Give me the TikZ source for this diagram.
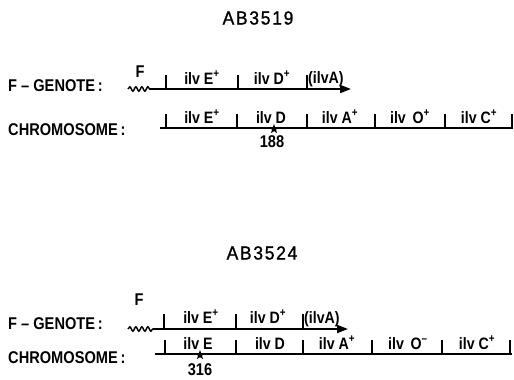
\documentclass[tikz,border=0pt]{standalone}
\usepackage{fontspec}
\setmainfont[FakeStretch=0.86]{Liberation Sans Bold}
\newfontfamily\titlefont[LetterSpace=9,FakeStretch=0.92,FakeBold=1.2]{Liberation Sans}
\usetikzlibrary{arrows.meta,decorations.pathmorphing,shapes.geometric}
\tikzset{
  rowlabel/.style={anchor=west,inner sep=0pt,font=\fontsize{17}{17}\selectfont},
  title/.style={inner sep=0pt,font=\titlefont\fontsize{19}{19}\selectfont},
  gene/.style={inner sep=0pt,anchor=base,font=\fontsize{16.5}{16.5}\selectfont},
  site/.style={inner sep=0pt,font=\fontsize{17}{17}\selectfont},
  dna/.style={line width=1.7pt},
  episome/.style={line width=1.9pt,-{Triangle[length=11pt,width=8pt]}},
  tick/.style={line width=1.4pt},
  wave/.style={line width=1.5pt,decorate,decoration={snake,segment length=6pt,amplitude=2.2pt}},
  mut/.style={star,star points=5,star point ratio=2.4,fill=black,inner sep=0pt,minimum size=10pt}
}
\newcommand{\plus}{\textsuperscript{+}}
\newcommand{\minus}{\textsuperscript{--}}
\begin{document}
\begin{tikzpicture}[x=1pt,y=-1pt]
\useasboundingbox (0,0) rectangle (514,380);

% ---------------- strain AB3519 ----------------
\node[title] (t1) at (258,18) {AB3519};

\node[rowlabel] (g1) at (8,86) {F -- GENOTE\,:};
\node[site] (f1) at (140,72) {F};
\coordinate (w1a) at (128,89);
\coordinate (w1b) at (150,89);
\coordinate (a1) at (351,89);
\draw[wave] (w1a) -- (w1b);
\draw[episome] (w1b) -- (a1);
\foreach \x/\n in {166/1,238/2,307/3}{
  \coordinate (gt1\n) at (\x,89);
  \draw[tick] (gt1\n) -- ++(0,-14);
}
\node[gene] (ge1) at (202,84) {ilv E\plus};
\node[gene] (gd1) at (272,84) {ilv D\plus};
\node[gene,anchor=base west] (ga1) at (308,83) {(ilvA)};

\node[rowlabel] (c1) at (8,130) {CHROMOSOME\,:};
\coordinate (cs1) at (160,128);
\coordinate (ce1) at (513,128);
\draw[dna] (cs1) -- (ce1);
\foreach \x/\n in {166/1,237/2,307/3,375/4,445/5,512/6}{
  \coordinate (ct1\n) at (\x,128);
  \draw[tick] (ct1\n) -- ++(0,-14);
}
\node[gene] (ce1l) at (202,123) {ilv E\plus};
\node[gene] (cd1l) at (271,123) {ilv D};
\node[gene] (ca1l) at (340,123) {ilv A\plus};
\node[gene] (co1l) at (410,123) {ilv \,O\plus};
\node[gene] (cc1l) at (479,123) {ilv C\plus};
\node[mut] (m1) at (274,129) {};
\node[site] (n1) at (272,142) {188};

% ---------------- strain AB3524 ----------------
\node[title] (t2) at (262,253) {AB3524};

\node[rowlabel] (g2) at (8,324) {F -- GENOTE\,:};
\node[site] (f2) at (139,300) {F};
\coordinate (w2a) at (128,329);
\coordinate (w2b) at (153,329);
\coordinate (a2) at (348,329);
\draw[wave] (w2a) -- (w2b);
\draw[episome] (w2b) -- (a2);
\foreach \x/\n in {164/1,236/2,303/3}{
  \coordinate (gt2\n) at (\x,329);
  \draw[tick] (gt2\n) -- ++(0,-15);
}
\node[gene] (ge2) at (201,323) {ilv E\plus};
\node[gene] (gd2) at (268,323) {ilv D\plus};
\node[gene,anchor=base west] (ga2) at (304,323) {(ilvA)};

\node[rowlabel] (c2) at (8,358) {CHROMOSOME\,:};
\coordinate (cs2) at (155,354);
\coordinate (ce2) at (512,354);
\draw[dna] (cs2) -- (ce2);
\foreach \x/\n in {165/1,236/2,303/3,372/4,442/5,510/6}{
  \coordinate (ct2\n) at (\x,354);
  \draw[tick] (ct2\n) -- ++(0,-14);
}
\node[gene] (ce2l) at (198,349) {ilv E};
\node[gene] (cd2l) at (270,349) {ilv D};
\node[gene] (ca2l) at (337,349) {ilv A\plus};
\node[gene] (co2l) at (408,349) {ilv \,O\minus};
\node[gene] (cc2l) at (477,349) {ilv C\plus};
\node[mut] (m2) at (200,355) {};
\node[site] (n2) at (200,370) {316};
\end{tikzpicture}
\end{document}
